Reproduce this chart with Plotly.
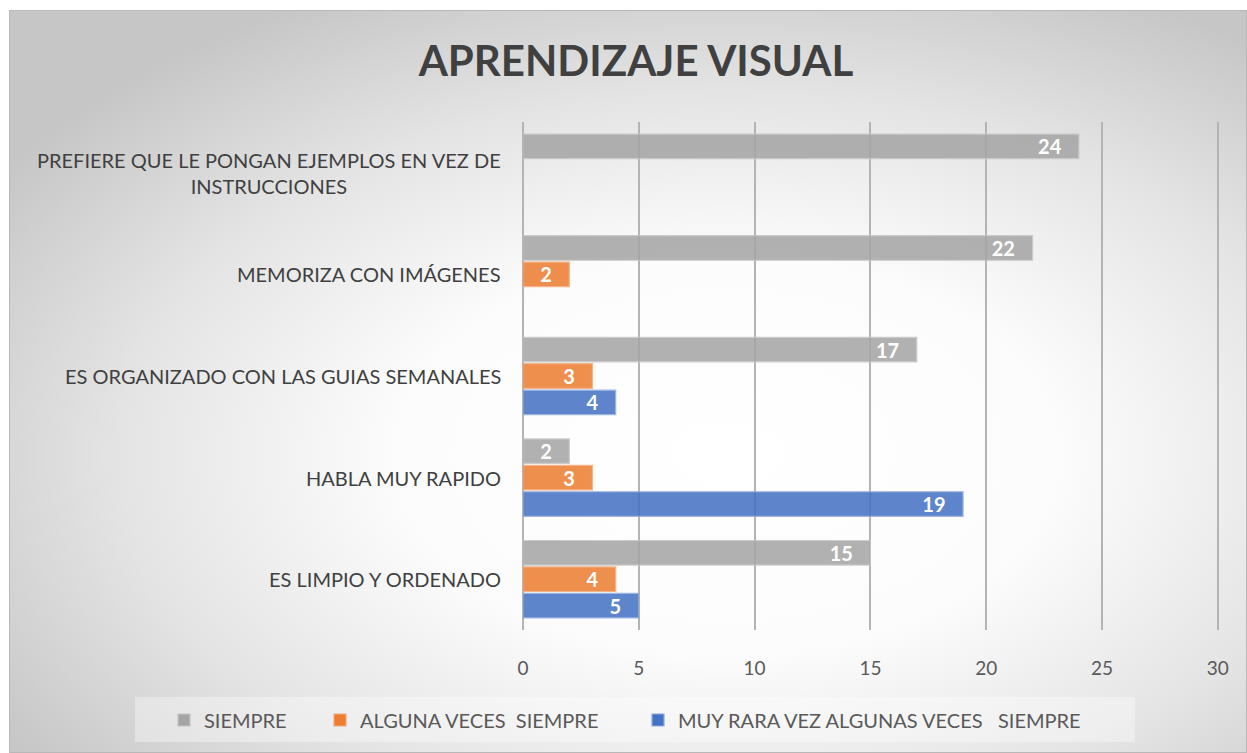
import base64
import plotly.graph_objects as go

categorias = [
    "PREFIERE QUE LE PONGAN EJEMPLOS EN VEZ DE<br>INSTRUCCIONES",
    "MEMORIZA CON IMÁGENES",
    "ES ORGANIZADO CON LAS GUIAS SEMANALES",
    "HABLA MUY RAPIDO",
    "ES LIMPIO Y ORDENADO",
]
siempre = [24, 22, 17, 2, 15]
alguna_veces = [None, 2, 3, 3, 4]
muy_rara_vez = [None, None, 4, 19, 5]

nombres = [
    "SIEMPRE",
    "ALGUNA VECES\u00a0\u00a0SIEMPRE",
    "MUY RARA VEZ ALGUNAS VECES\u00a0\u00a0\u00a0SIEMPRE",
]
colores = ["#A5A5A5", "#ED7D31", "#4472C4"]
bordes = ["#c4c4c4", "#f4a878", "#8eaadb"]
ticks_x = [0, 5, 10, 15, 20, 25, 30]

W, H = 1247, 753
L, R, T, B = 523, 28, 122, 123
pw, ph = W - L - R, H - T - B

def px(x):
    return (x - L) / pw

def py(y):
    return (H - B - y) / ph

# fondo con degradado radial como en Excel
svg = """<svg xmlns='http://www.w3.org/2000/svg' width='1238' height='743' preserveAspectRatio='none'>
<defs><radialGradient id='g' cx='0.58' cy='0.6' r='0.7'>
<stop offset='0' stop-color='#ffffff'/><stop offset='0.38' stop-color='#fcfcfc'/>
<stop offset='0.7' stop-color='#e4e4e4'/>
<stop offset='1' stop-color='#c6c6c6'/></radialGradient></defs>
<rect x='0' y='0' width='1238' height='743' fill='url(#g)' stroke='#b8b8b8' stroke-width='2'/></svg>"""
fondo = "data:image/svg+xml;base64," + base64.b64encode(svg.encode()).decode()

fig = go.Figure()
series = [siempre, alguna_veces, muy_rara_vez]
leyendas = ["legend", "legend2", "legend3"]
for vals, nombre, col, borde, lg in zip(series, nombres, colores, bordes, leyendas):
    fig.add_trace(go.Bar(
        y=categorias, x=vals, name=nombre, orientation="h",
        marker=dict(color=col, opacity=0.86, line=dict(color=borde, width=1.2)),
        texttemplate="%{x}\u00a0\u00a0\u00a0", textposition="inside",
        insidetextanchor="end", constraintext="none", textangle=0,
        textfont=dict(family="Lato", size=20, color="white", weight="bold"),
        legend=lg,
    ))

for c in categorias:
    fig.add_annotation(
        x=0, xref="paper", y=c, yref="y", text=c, showarrow=False,
        xanchor="right", xshift=-20, align="center",
        font=dict(family="Lato", size=20, color="#404040"),
    )

fig.add_shape(type="rect", xref="paper", yref="paper",
              x0=px(135), x1=px(1135), y0=py(742), y1=py(697),
              fillcolor="rgba(255,255,255,0.35)", line=dict(width=0), layer="below")

leg_font = dict(family="Lato", size=20, color="#595959")
leg_common = dict(orientation="h", yanchor="middle", y=py(720), xanchor="left",
                  bgcolor="rgba(0,0,0,0)", font=leg_font, itemwidth=30)

fig.update_layout(
    width=W, height=H,
    margin=dict(l=L, r=R, t=T, b=B),
    paper_bgcolor="white", plot_bgcolor="rgba(0,0,0,0)",
    images=[dict(source=fondo, xref="paper", yref="paper",
                 x=px(9), y=py(10), sizex=px(W) - px(9), sizey=py(10) - py(H),
                 xanchor="left", yanchor="top", sizing="stretch", layer="below")],
    title=dict(text="<b>APRENDIZAJE VISUAL</b>", x=0.51, xanchor="center",
               y=1 - 61 / H, yanchor="middle",
               font=dict(family="Lato", size=42, color="#404040")),
    barmode="group", bargap=0.22, bargroupgap=0.07,
    showlegend=True,
    legend=dict(x=px(164), **leg_common),
    legend2=dict(x=px(320), **leg_common),
    legend3=dict(x=px(638), **leg_common),
    xaxis=dict(range=[0, 30.05], tickvals=ticks_x, showgrid=True,
               gridcolor="#b4b4b4", gridwidth=1.5,
               zeroline=True, zerolinecolor="#b4b4b4", zerolinewidth=1.5,
               showline=False, ticks="", ticklabelstandoff=25,
               tickfont=dict(family="Lato", size=19, color="#595959")),
    yaxis=dict(autorange="reversed", showticklabels=False, showgrid=False,
               zeroline=False, showline=False, ticks=""),
)

fig.write_html("out.html", config={"displayModeBar": False},
               post_script="document.body.style.margin='0';")
